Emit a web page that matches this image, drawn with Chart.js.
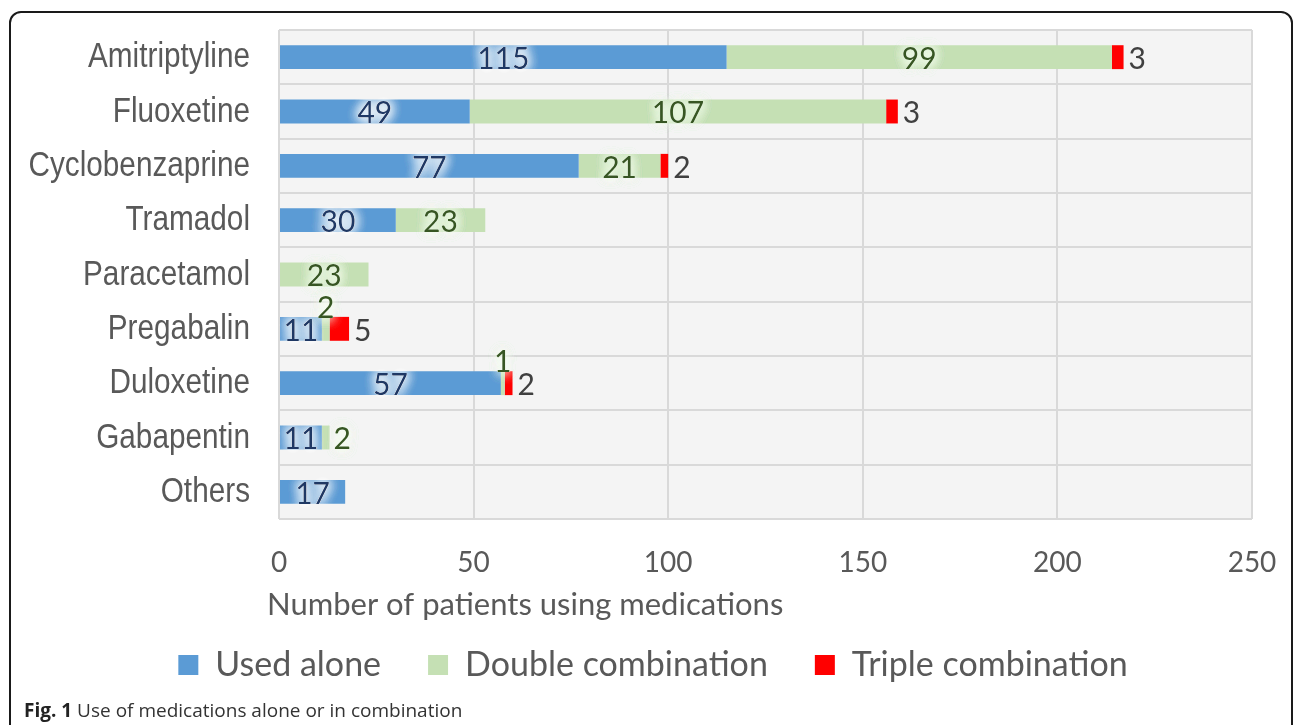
<!DOCTYPE html>
<html><head><meta charset="utf-8">
<script src="https://cdn.jsdelivr.net/npm/chart.js@4.4.1/dist/chart.umd.min.js"></script>
<style>
html,body{margin:0;padding:0;background:#fff;width:1295px;height:725px;overflow:hidden;}
#frame{position:absolute;left:9px;top:11px;width:1280px;height:740px;border:2px solid #1a1a1a;border-radius:12px;}
#wrap{position:absolute;left:0;top:0;width:1295px;height:725px;}
#cap{position:absolute;left:24px;top:701px;font-family:'Open Sans',sans-serif;font-size:19px;line-height:19px;color:#333;white-space:nowrap;}
#cap b{color:#222;}
</style></head><body>
<div id="frame"></div>
<div id="wrap"><canvas id="c"></canvas></div>
<div id="cap"><b>Fig. 1</b> Use of medications alone or in combination</div>
<script>
const categories = ["Amitriptyline","Fluoxetine","Cyclobenzaprine","Tramadol","Paracetamol","Pregabalin","Duloxetine","Gabapentin","Others"];
const usedAlone  = [115, 49, 77, 30, 0, 11, 57, 11, 17];
const doubleComb = [99, 107, 21, 23, 23, 2, 1, 2, 0];
const tripleComb = [3, 3, 2, 0, 0, 5, 2, 0, 0];
const seriesNames = ["Used alone","Double combination","Triple combination"];
const seriesColors = ["#5b9bd5","#c5e0b4","#ff0000"];
const xMin = 0, xMax = 250, xStep = 50;
const xTitle = "Number of patients using medications";

const plotBg = {
  id:'plotBg',
  beforeDraw(chart){
    const {ctx, chartArea:a} = chart;
    ctx.save(); ctx.fillStyle='#f4f4f4';
    ctx.fillRect(a.left, a.top, a.right-a.left, a.bottom-a.top);
    ctx.restore();
  }
};

// category labels drawn in a narrow face (horizontally condensed Liberation Sans)
const yLabels = {
  id:'yLabels',
  afterDraw(chart){
    const {ctx, chartArea:a} = chart;
    const ys = chart.scales.y;
    ctx.save();
    ctx.font = "35px 'Liberation Sans', Arial, sans-serif";
    ctx.fillStyle = '#595959';
    ctx.textAlign = 'right'; ctx.textBaseline = 'alphabetic';
    chart.data.labels.forEach((lab, i) => {
      const y = ys.getPixelForTick(i);
      ctx.save();
      ctx.translate(a.left - 29, y + 10);
      ctx.scale(0.85, 1);
      ctx.fillText(lab, 0, 0);
      ctx.restore();
    });
    ctx.restore();
  }
};

const segLabels = {
  id:'segLabels',
  afterDatasetsDraw(chart){
    const ctx = chart.ctx;
    ctx.save();
    ctx.font = "30px Lato";
    chart.data.datasets.forEach((ds, d) => {
      const meta = chart.getDatasetMeta(d);
      meta.data.forEach((el, i) => {
        const v = ds.data[i];
        if (!v) return;
        const p = el.getProps(['x','base','y','height'], true);
        let tx, ty = p.y + 2, align = 'center', baseline = 'middle', color, glow = null;
        if (d === 0) {
          tx = (p.x + p.base) / 2; color = '#1f3864'; glow = 'rgba(255,255,255,0.95)';
        } else if (d === 1) {
          color = '#375623'; glow = 'rgba(245,255,240,0.9)';
          if (v <= 2 && tripleComb[i] > 0) { tx = (p.x + p.base) / 2; ty = p.y - p.height/2 + 1; baseline = 'alphabetic'; }
          else if (v <= 2) { tx = p.x + 4; align = 'left'; }
          else { tx = (p.x + p.base) / 2; }
        } else {
          tx = p.x + 5; align = 'left'; color = '#404040';
        }
        ctx.textAlign = align; ctx.textBaseline = baseline;
        const s = String(v);
        if (glow) {
          ctx.shadowColor = glow; ctx.shadowBlur = 12; ctx.fillStyle = glow;
          for (let k = 0; k < 5; k++) ctx.fillText(s, tx, ty);
          ctx.shadowBlur = 0; ctx.shadowColor = 'transparent';
        }
        ctx.fillStyle = color;
        ctx.fillText(s, tx, ty);
      });
    });
    ctx.restore();
  }
};

const axisTitle = {
  id:'axisTitle',
  afterDraw(chart){
    const {ctx, chartArea:a} = chart;
    ctx.save();
    ctx.font = "31px Lato"; ctx.fillStyle = '#595959';
    ctx.textAlign = 'left'; ctx.textBaseline = 'alphabetic';
    ctx.fillText(xTitle, a.left - 12, a.bottom + 96);
    ctx.restore();
  }
};

new Chart(document.getElementById('c'), {
  type:'bar',
  data:{
    labels: categories,
    datasets:[
      {label: seriesNames[0], data: usedAlone, backgroundColor: seriesColors[0]},
      {label: seriesNames[1], data: doubleComb, backgroundColor: seriesColors[1]},
      {label: seriesNames[2], data: tripleComb, backgroundColor: seriesColors[2]}
    ]
  },
  options:{
    indexAxis:'y',
    responsive:true, maintainAspectRatio:false, animation:false, devicePixelRatio:1,
    datasets:{bar:{categoryPercentage:1, barPercentage:0.44, borderWidth:0}},
    layout:{padding:{left:54, right:43, top:30, bottom:33}},
    scales:{
      x:{
        stacked:true, min:xMin, max:xMax,
        ticks:{stepSize:xStep, font:{family:'Lato', size:28}, color:'#595959', padding:0, maxRotation:0},
        grid:{color:'#d9d9d9', lineWidth:2, drawTicks:true, tickLength:27, tickColor:'rgba(0,0,0,0)'},
        border:{display:false},
        afterFit(s){ s.height = 82; }
      },
      y:{
        stacked:true,
        ticks:{display:false},
        grid:{color:'#d9d9d9', lineWidth:2, drawTicks:false, offset:true},
        border:{display:false},
        afterFit(s){ s.width = 225; }
      }
    },
    plugins:{
      legend:{
        position:'bottom',
        labels:{font:{family:'Lato', size:34}, color:'#595959', boxWidth:20, boxHeight:20, padding:47}
      },
      tooltip:{enabled:false}
    }
  },
  plugins:[plotBg, yLabels, segLabels, axisTitle]
});
</script>
</body></html>
